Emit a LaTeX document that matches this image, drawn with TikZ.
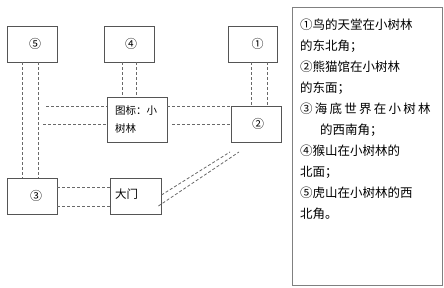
\documentclass[tikz,border=0pt]{standalone}
\usepackage{fontspec}
\newfontfamily\cjk{Noto Sans CJK SC}
\usetikzlibrary{positioning,calc}
\definecolor{cbox}{RGB}{85,85,85}
\definecolor{clink}{RGB}{105,105,105}
\definecolor{cframe}{RGB}{128,128,128}

\begin{document}
\begin{tikzpicture}[
            x=1pt, y=-1pt,
            spot/.style={draw=cbox, line width=0.9pt, minimum width=50pt, minimum height=36pt,
                         inner sep=0pt, font=\cjk\fontsize{12}{14}\selectfont},
            link/.style={draw=clink, dash pattern=on 3pt off 2pt, line width=0.8pt},
            note/.style={anchor=west, inner sep=0pt, font=\cjk\fontsize{12.5}{15}\selectfont}
          ]
          \useasboundingbox (0,0) rectangle (444,288);
          % places
          \node[spot]                           (n5)    at (32,44)    {\hspace*{6pt}⑤};
          \node[spot]                           (n4)    at (129,44)   {\hspace*{4pt}④};
          \node[spot, minimum width=49pt]       (n1)    at (252.5,44) {\hspace*{10pt}①};
          \node[spot, minimum width=60pt, minimum height=45pt, text width=44pt, align=left,
                font=\cjk\fontsize{10.5}{18}\selectfont] (grove) at (137,119.5) {图标：小\\树林};
          \node[spot]                           (n2)    at (256,124)  {\hspace*{4pt}②};
          \node[spot]                           (n3)    at (32,196)   {\hspace*{8pt}③};
          \node[spot, minimum width=51pt, text width=41pt, align=left,
                font=\cjk\fontsize{11.5}{14}\selectfont] (gate) at (135.5,196) {\raisebox{4pt}{大门}};
          % legend
          \node[draw=cframe, line width=1.3pt, minimum width=150pt, minimum height=278pt,
                inner sep=0pt] (legend) at (367.5,146.5) {};
          \foreach \txt [count=\i] in {{①鸟的天堂在小树林}, {的东北角；}, {②熊猫馆在小树林}, {的东面；},
                {\addfontfeatures{LetterSpace=18}③海底世界在小树林}, {\hspace*{20pt}的西南角；},
                {④猴山在小树林的}, {北面；}, {⑤虎山在小树林的西}, {北角。}}
            \node[note] (t\i) at (300,4+21*\i) {\txt};
          % paths
          \coordinate (w1) at (46,106);
          \coordinate (w2) at (43,124);
          \coordinate (d1) at (230,152);
          \coordinate (d2) at (239,152);
          \draw[link] ([xshift=-10pt]n5.south) -- ([xshift=-10pt]n3.north);
          \draw[link] ([xshift=6pt]n5.south) -- ([xshift=6pt]n3.north);
          \draw[link] ([xshift=-7pt]n4.south) -- ([xshift=-7pt]n4.south |- grove.north);
          \draw[link] ([xshift=7pt]n4.south) -- ([xshift=7pt]n4.south |- grove.north);
          \draw[link] ([xshift=-1.5pt]n1.south) -- ([xshift=-1.5pt]n1.south |- n2.north);
          \draw[link] ([xshift=14.5pt]n1.south) -- ([xshift=14.5pt]n1.south |- n2.north);
          \draw[link] (w1) -- (w1 -| grove.west);
          \draw[link] (w1 -| grove.east) -- (w1 -| n2.west);
          \draw[link] (w2) -- (w2 -| grove.west);
          \draw[link] ($(w2 -| grove.east)+(5,0)$) -- (w2 -| n2.west);
          \draw[link] ([yshift=9pt]n3.east) -- ([yshift=9pt]gate.west);
          \draw[link] ([yshift=-10pt]n3.east) -- ([yshift=-10pt]gate.west);
          \draw[link] ([yshift=1pt]gate.east) -- (d1);
          \draw[link] ([xshift=-3pt,yshift=-10pt]gate.east) -- (d2);
        \end{tikzpicture}
\end{document}
